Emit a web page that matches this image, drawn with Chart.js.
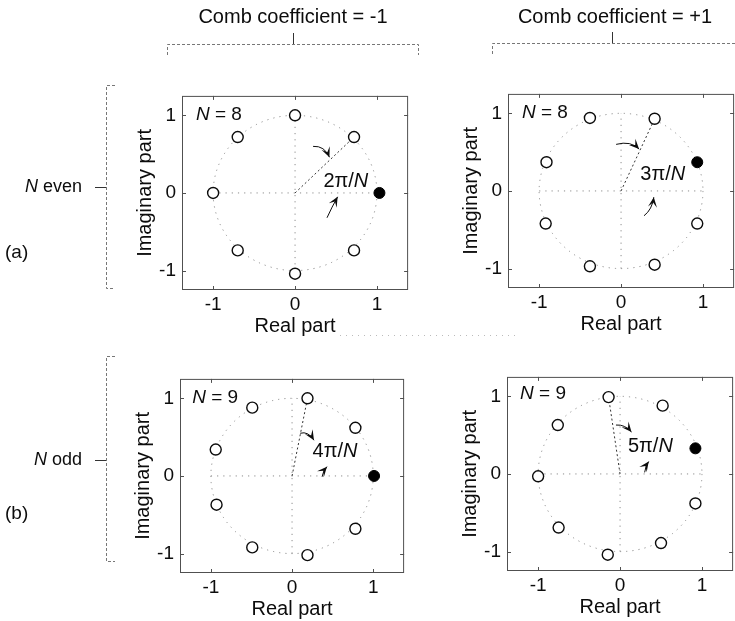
<!DOCTYPE html>
<html>
<head>
<meta charset="utf-8">
<script src="https://cdn.jsdelivr.net/npm/chart.js@4.4.1/dist/chart.umd.min.js"></script>
<style>
  html, body { margin: 0; padding: 0; background: #fff; overflow: hidden; }
  body { width: 735px; height: 621px; position: relative; }
  #frame { position: absolute; left: 0; top: 0; }
  .panel { position: absolute; }
</style>
</head>
<body>
<canvas id="frame" width="735" height="621"></canvas>
<canvas class="panel" id="pTL"></canvas>
<canvas class="panel" id="pTR"></canvas>
<canvas class="panel" id="pBL"></canvas>
<canvas class="panel" id="pBR"></canvas>
<script>
// zeros (open) and pole (filled) of the comb filters, real / imaginary parts
const evenNegRe = [0.72, 0.0, -0.70, -1.0, -0.70, 0.0, 0.72];
const evenNegIm = [0.72, 1.0, 0.72, 0.0, -0.74, -1.04, -0.74];
const evenNegDotRe = [1.03];
const evenNegDotIm = [0.0];

const evenPosRe = [0.41, -0.38, -0.91, -0.92, -0.38, 0.41, 0.93];
const evenPosIm = [0.93, 0.94, 0.37, -0.42, -0.97, -0.95, -0.42];
const evenPosDotRe = [0.93];
const evenPosDotIm = [0.37];

const oddNegRe = [0.19, 0.78, -0.49, -0.94, -0.93, -0.49, 0.19, 0.78];
const oddNegIm = [1.0, 0.62, 0.88, 0.34, -0.37, -0.92, -1.02, -0.68];
const oddNegDotRe = [1.01];
const oddNegDotIm = [0.0];

const oddPosRe = [-0.14, 0.52, -0.76, -1.0, -0.75, -0.15, 0.50, 0.92];
const oddPosIm = [0.99, 0.88, 0.63, -0.03, -0.69, -1.04, -0.89, -0.38];
const oddPosDotRe = [0.92];
const oddPosDotIm = [0.33];

const xTicks = [-1, 0, 1];
const yTicks = [-1, 0, 1];
const panelN = [8, 8, 9, 9];
const angleMult = [2, 3, 4, 5];
const combCoef = ['-1', '+1'];
const rowNames = ['even', 'odd'];
const rowTags = ['(a)', '(b)'];

const FONT = "'Liberation Sans', Arial, Helvetica, sans-serif";
const INK = '#0c0c0c';

// draws the unit circle, guide lines, frame and angle annotations
const polePlot = {
  id: 'polePlot',
  beforeDatasetsDraw(chart) {
    const { ctx, chartArea: a, scales: { x, y } } = chart;
    const opt = chart.options.plugins.polePlot;
    const cx = x.getPixelForValue(0), cy = y.getPixelForValue(0);
    const rx = x.getPixelForValue(1) - cx, ry = cy - y.getPixelForValue(1);
    ctx.save();
    ctx.lineWidth = 1;
    ctx.strokeStyle = '#8c8c8c';
    ctx.setLineDash([1.2, 5]);
    ctx.beginPath();
    ctx.ellipse(cx, cy, rx, ry, 0, 0, Math.PI * 2);
    ctx.stroke();
    ctx.beginPath();
    ctx.moveTo(x.getPixelForValue(-1), cy);
    ctx.lineTo(x.getPixelForValue(1), cy);
    ctx.moveTo(cx, y.getPixelForValue(-1));
    ctx.lineTo(cx, y.getPixelForValue(1));
    ctx.stroke();

    // radius to the reference zero
    const pt = chart.data.datasets[0].data[opt.radiusTo];
    ctx.strokeStyle = '#333';
    ctx.setLineDash([2, 2.5]);
    ctx.beginPath();
    ctx.moveTo(cx, cy);
    ctx.lineTo(x.getPixelForValue(pt.x), y.getPixelForValue(pt.y));
    ctx.stroke();

    // frame with inward ticks
    ctx.setLineDash([]);
    ctx.strokeStyle = '#505050';
    ctx.strokeRect(a.left + 0.5, a.top + 0.5, a.right - a.left - 1, a.bottom - a.top - 1);
    ctx.beginPath();
    x.ticks.forEach(t => {
      const px = Math.round(x.getPixelForValue(t.value)) + 0.5;
      ctx.moveTo(px, a.bottom); ctx.lineTo(px, a.bottom - 4);
      ctx.moveTo(px, a.top); ctx.lineTo(px, a.top + 4);
    });
    y.ticks.forEach(t => {
      const py = Math.round(y.getPixelForValue(t.value)) + 0.5;
      ctx.moveTo(a.left, py); ctx.lineTo(a.left + 4, py);
      ctx.moveTo(a.right, py); ctx.lineTo(a.right - 4, py);
    });
    ctx.stroke();
    ctx.restore();
  },
  afterDatasetsDraw(chart) {
    const { ctx, scales: { x, y } } = chart;
    const opt = chart.options.plugins.polePlot;
    ctx.save();
    ctx.fillStyle = INK;
    ctx.strokeStyle = INK;
    ctx.lineWidth = 1;
    opt.arrows.forEach(([s, c, e]) => {
      const sx = x.getPixelForValue(s[0]), sy = y.getPixelForValue(s[1]);
      const qx = x.getPixelForValue(c[0]), qy = y.getPixelForValue(c[1]);
      const ex = x.getPixelForValue(e[0]), ey = y.getPixelForValue(e[1]);
      ctx.beginPath();
      ctx.moveTo(sx, sy);
      ctx.quadraticCurveTo(qx, qy, ex, ey);
      ctx.stroke();
      const ang = Math.atan2(ey - qy, ex - qx);
      const len = 10, wid = 4.5;
      const cs = Math.cos(ang), sn = Math.sin(ang);
      ctx.beginPath();
      ctx.moveTo(ex, ey);
      ctx.lineTo(ex - len * cs + wid * sn, ey - len * sn - wid * cs);
      ctx.lineTo(ex - 0.55 * len * cs, ey - 0.55 * len * sn);
      ctx.lineTo(ex - len * cs - wid * sn, ey - len * sn + wid * cs);
      ctx.closePath();
      ctx.fill();
    });

    ctx.textBaseline = 'middle';
    // "N = 8" tag
    let tx = x.getPixelForValue(opt.tagAt[0]), ty = y.getPixelForValue(opt.tagAt[1]);
    ctx.font = `italic 19px ${FONT}`;
    ctx.textAlign = 'left';
    ctx.fillText('N', tx, ty);
    tx += ctx.measureText('N').width;
    ctx.font = `19px ${FONT}`;
    ctx.fillText(' = ' + opt.n, tx, ty);

    // angle label "kπ/N"
    const lead = opt.k + 'π/';
    ctx.font = `20px ${FONT}`;
    const w1 = ctx.measureText(lead).width;
    ctx.font = `italic 20px ${FONT}`;
    const w2 = ctx.measureText('N').width;
    const lx = x.getPixelForValue(opt.angleAt[0]) - (w1 + w2) / 2;
    const ly = y.getPixelForValue(opt.angleAt[1]);
    ctx.font = `20px ${FONT}`;
    ctx.fillText(lead, lx, ly);
    ctx.font = `italic 20px ${FONT}`;
    ctx.fillText('N', lx + w1, ly);
    ctx.restore();
  }
};

function pts(re, im) {
  return re.map((v, i) => ({ x: v, y: im[i] }));
}

function makePanel(id, pos, re, im, dotRe, dotIm, extra) {
  const cv = document.getElementById(id);
  cv.width = pos.w;
  cv.height = pos.h;
  cv.style.left = pos.left + 'px';
  cv.style.top = pos.top + 'px';
  return new Chart(cv, {
    type: 'scatter',
    data: {
      datasets: [
        {
          data: pts(re, im),
          pointRadius: 5.5,
          pointBackgroundColor: '#fff',
          pointBorderColor: INK,
          pointBorderWidth: 1.4
        },
        {
          data: pts(dotRe, dotIm),
          pointRadius: 5.5,
          pointBackgroundColor: '#000',
          pointBorderColor: '#000',
          pointBorderWidth: 1
        }
      ]
    },
    options: {
      responsive: false,
      animation: false,
      events: [],
      layout: { padding: { top: 2, right: 2, left: 0, bottom: 0 } },
      plugins: {
        legend: { display: false },
        tooltip: { enabled: false },
        polePlot: extra
      },
      scales: {
        x: {
          type: 'linear',
          min: -1.38,
          max: 1.38,
          afterBuildTicks: s => { s.ticks = xTicks.map(v => ({ value: v })); },
          afterFit: s => { s.height = 52; s.paddingLeft = 0; s.paddingRight = 0; },
          grid: { display: false, drawTicks: false },
          border: { display: false },
          ticks: { padding: 3, color: INK, font: { family: FONT, size: 19 }, callback: v => String(v) },
          title: { display: true, text: 'Real part', color: INK, font: { family: FONT, size: 20 }, padding: { top: 0, bottom: 4 } }
        },
        y: {
          type: 'linear',
          min: -1.25,
          max: 1.25,
          afterBuildTicks: s => { s.ticks = yTicks.map(v => ({ value: v })); },
          afterFit: s => { s.width = 55; s.paddingTop = 0; s.paddingBottom = 0; },
          grid: { display: false, drawTicks: false },
          border: { display: false },
          ticks: { padding: 6, color: INK, font: { family: FONT, size: 19 }, callback: v => String(v) },
          title: { display: true, text: 'Imaginary part', color: INK, font: { family: FONT, size: 20 }, padding: { top: 6, bottom: 0 } }
        }
      }
    },
    plugins: [polePlot]
  });
}

makePanel('pTL', { left: 127, top: 89, w: 288, h: 253 }, evenNegRe, evenNegIm, evenNegDotRe, evenNegDotIm, {
  n: panelN[0], k: angleMult[0], radiusTo: 0, tagAt: [-1.21, 1.01], angleAt: [0.62, 0.15],
  arrows: [[[0.22, 0.60], [0.36, 0.61], [0.42, 0.46]], [[0.39, -0.32], [0.45, -0.18], [0.52, -0.05]]]
});
makePanel('pTR', { left: 453, top: 87, w: 288, h: 253 }, evenPosRe, evenPosIm, evenPosDotRe, evenPosDotIm, {
  n: panelN[1], k: angleMult[1], radiusTo: 0, tagAt: [-1.21, 1.01], angleAt: [0.51, 0.21],
  arrows: [[[-0.06, 0.60], [0.12, 0.65], [0.22, 0.54]], [[0.28, -0.32], [0.38, -0.24], [0.40, -0.08]]]
});
makePanel('pBL', { left: 125, top: 372, w: 286, h: 253 }, oddNegRe, oddNegIm, oddNegDotRe, oddNegDotIm, {
  n: panelN[2], k: angleMult[2], radiusTo: 0, tagAt: [-1.23, 1.01], angleAt: [0.53, 0.32],
  arrows: [[[0.10, 0.55], [0.20, 0.58], [0.27, 0.46]], [[0.37, -0.01], [0.38, 0.06], [0.43, 0.12]]]
});
makePanel('pBR', { left: 452, top: 370, w: 288, h: 253 }, oddPosRe, oddPosIm, oddPosDotRe, oddPosDotIm, {
  n: panelN[3], k: angleMult[3], radiusTo: 0, tagAt: [-1.22, 1.03], angleAt: [0.37, 0.35],
  arrows: [[[-0.05, 0.63], [0.06, 0.64], [0.14, 0.54]], [[0.30, 0.02], [0.31, 0.10], [0.35, 0.16]]]
});

// column headers, row labels and grouping brackets
(function drawFrame() {
  const ctx = document.getElementById('frame').getContext('2d');
  ctx.fillStyle = INK;
  ctx.textBaseline = 'middle';
  ctx.textAlign = 'center';
  ctx.font = `20px ${FONT}`;
  ctx.fillText('Comb coefficient = ' + combCoef[0], 293, 17);
  ctx.fillText('Comb coefficient = ' + combCoef[1], 615, 17);

  const rowY = [187, 460];
  rowY.forEach((ry, i) => {
    ctx.textAlign = 'left';
    ctx.font = `18px ${FONT}`;
    const rest = ' ' + rowNames[i];
    const wr = ctx.measureText(rest).width;
    ctx.font = `italic 18px ${FONT}`;
    const wn = ctx.measureText('N').width;
    const x0 = 82 - wr - wn;
    ctx.fillText('N', x0, ry);
    ctx.font = `18px ${FONT}`;
    ctx.fillText(rest, x0 + wn, ry);
    ctx.font = `19px ${FONT}`;
    ctx.fillText(rowTags[i], 5, ry + (i === 0 ? 66 : 54));
  });

  ctx.lineWidth = 1;
  ctx.strokeStyle = '#777';
  ctx.setLineDash([3, 2]);
  ctx.beginPath();
  // column brackets
  ctx.moveTo(167.5, 55); ctx.lineTo(167.5, 44.5); ctx.lineTo(418.5, 44.5); ctx.lineTo(418.5, 55);
  ctx.moveTo(492.5, 54); ctx.lineTo(492.5, 43.5); ctx.lineTo(745, 43.5);
  // row brackets
  ctx.moveTo(115, 85.5); ctx.lineTo(106.5, 85.5); ctx.lineTo(106.5, 288.5); ctx.lineTo(115, 288.5);
  ctx.moveTo(115, 356.5); ctx.lineTo(106.5, 356.5); ctx.lineTo(106.5, 561.5); ctx.lineTo(115, 561.5);
  ctx.stroke();

  ctx.setLineDash([]);
  ctx.strokeStyle = '#333';
  ctx.beginPath();
  ctx.moveTo(293.5, 33); ctx.lineTo(293.5, 44);
  ctx.moveTo(612.5, 32); ctx.lineTo(612.5, 43);
  ctx.moveTo(95, 187.5); ctx.lineTo(106, 187.5);
  ctx.moveTo(95, 460.5); ctx.lineTo(106, 460.5);
  ctx.stroke();

  // faint rule between the rows
  ctx.strokeStyle = '#bbb';
  ctx.setLineDash([1, 5]);
  ctx.beginPath();
  ctx.moveTo(340, 335.5); ctx.lineTo(520, 335.5);
  ctx.stroke();
})();
</script>
</body>
</html>
